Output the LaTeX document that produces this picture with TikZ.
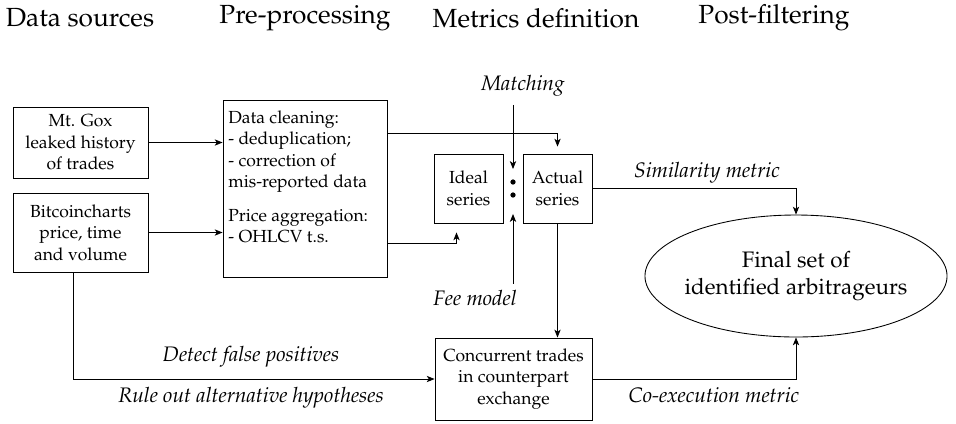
\documentclass[tikz,border=0pt]{standalone}
\usepackage[T1]{fontenc}
\usepackage{mathpazo}
\usetikzlibrary{arrows.meta,shapes.geometric,calc}

\begin{document}
\begin{tikzpicture}[x=0.5714pt,y=-0.5714pt,
  box/.style={draw,line width=0.5pt,inner sep=0pt,align=center,
              font=\fontsize{10}{12.3}\selectfont},
  arr/.style={line width=0.5pt,-{Stealth[length=4.5pt,width=3.6pt,inset=1.2pt]}},
  plain/.style={line width=0.5pt},
  lbl/.style={font=\fontsize{12}{14}\selectfont\itshape,inner sep=0pt},
  head/.style={font=\fontsize{15}{18}\selectfont,anchor=base,inner sep=0pt},
  blob/.style={circle,fill,inner sep=0pt,minimum size=3pt}]
\useasboundingbox (0,0) rectangle (956,423);

% stage headings
\node[head] (h1) at (80,26)  {Data sources};
\node[head] (h2) at (305,23) {Pre-processing};
\node[head] (h3) at (536,27) {Metrics definition};
\node[head] (h4) at (774,23) {Post-filtering};

% data sources
\node[box,minimum width=77.1pt,minimum height=40.6pt] (gox) at (80.5,142.5)
  {Mt. Gox\\leaked history\\of trades};
\node[box,minimum width=77.1pt,minimum height=45.1pt] (bc) at (80.5,232.5)
  {Bitcoincharts\\price, time\\and volume};

% pre-processing
\node[box,minimum width=93.7pt,minimum height=101.1pt] (pre) at (305,188.5) {};
\node[anchor=north west,inner sep=0pt,align=left,
      font=\fontsize{10}{12.3}\selectfont] (pretext) at (228,110)
  {Data cleaning:\\- deduplication;\\- correction of\\mis-reported data\\[7pt]
   Price aggregation:\\- OHLCV t.s.};

% metrics definition
\node[box,minimum width=39.4pt,minimum height=39.4pt] (ideal) at (468.5,188.5) {Ideal\\series};
\node[box,minimum width=39.4pt,minimum height=39.4pt] (act) at (557.5,188.5) {Actual\\series};
\node[blob] (d1) at (513,182) {};
\node[blob] (d2) at (513,195) {};
\node[box,minimum width=89.7pt,minimum height=46.9pt] (conc) at (513.5,379)
  {Concurrent trades\\in counterpart\\exchange};

% post-filtering: fixed-size ellipse (negative inner sep keeps the outline at its set size)
\node[draw,line width=0.5pt,ellipse,inner xsep=-40pt,inner ysep=-15pt,
      minimum width=172.6pt,minimum height=69.7pt,
      align=center,font=\fontsize{12.8}{15.4}\selectfont] (ell) at (796,276)
  {Final set of\\identified arbitrageurs};

% edge labels
\node[lbl] (match) at (523,86) {Matching};
\node[lbl] (fee) at (475,298) {Fee model};
\node[lbl] (sim) at (707,173) {Similarity metric};
\node[lbl] (coex) at (714,395) {Co-execution metric};
\node[lbl] (det) at (251,357) {Detect false positives};
\node[lbl] (rule) at (251,398) {Rule out alternative hypotheses};

% connectors
\draw[arr] (gox.east) -- (gox.east -| pre.west);
\draw[arr] (bc.east) -- (bc.east -| pre.west);
\draw[arr] ($(pre.north east)+(0,34)$) -| ($(act.north)+(0,-7)$);
\draw[arr] ($(pre.south east)+(0,-34)$) -| ($(ideal.south)+(-12,9)$);
\draw[arr] ($(d1 |- match.south)+(0,8)$) -- ($(d1.north)+(0,-10)$);
\draw[arr] ($(d2 |- fee.north)+(0,-6)$) -- ($(d2.south)+(0,16)$);
\draw[arr] (act.south) -- (act.south |- conc.north);
\draw[arr] ($(bc.south)+(-7,0)$) |- (conc.west);
\draw[arr] (act.east) -| (ell.north);
\draw[arr] (conc.east) -| (ell.south);
\end{tikzpicture}
\end{document}
